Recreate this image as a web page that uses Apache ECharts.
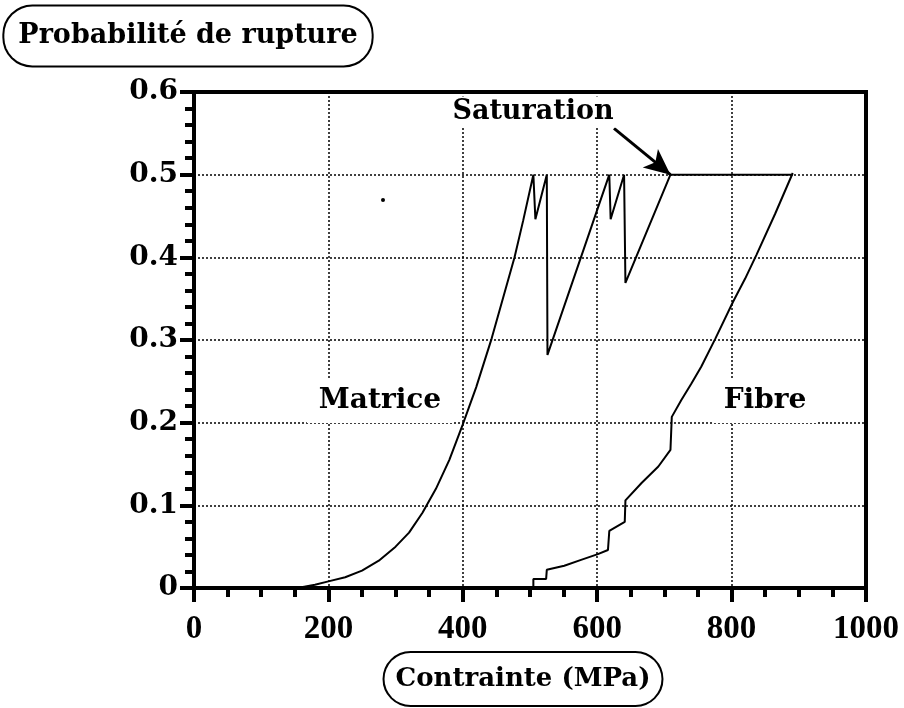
<!DOCTYPE html>
<html>
<head>
<meta charset="utf-8">
<script src="https://cdn.jsdelivr.net/npm/echarts@6/dist/echarts.min.js"></script>
<style>
html,body{margin:0;padding:0;background:#fff;}
#c{width:904px;height:708px;}
</style>
</head>
<body>
<div id="c"></div>
<script>
// ---- data ----
var xTicks = [0, 200, 400, 600, 800, 1000];
var yTicks = [0, 0.1, 0.2, 0.3, 0.4, 0.5, 0.6];

var matriceX = [130, 160, 180, 200, 225, 250, 275, 300, 320, 340, 360, 380, 400, 420, 443, 460, 477, 490, 505, 508, 525, 526, 618, 620, 640, 642, 709, 891];
var matriceY = [0, 0.001, 0.004, 0.008, 0.013, 0.021, 0.033, 0.050, 0.067, 0.091, 0.120, 0.155, 0.198, 0.243, 0.302, 0.351, 0.40, 0.445, 0.50, 0.446, 0.50, 0.282, 0.50, 0.446, 0.50, 0.369, 0.50, 0.50];

var fibreX = [505, 505, 524, 525, 551, 576, 601, 616, 618, 641, 642, 666, 691, 709, 711, 725, 740, 755, 776, 802, 820, 837, 865, 891];
var fibreY = [0, 0.011, 0.011, 0.022, 0.027, 0.034, 0.041, 0.046, 0.069, 0.080, 0.106, 0.127, 0.147, 0.167, 0.207, 0.227, 0.247, 0.268, 0.302, 0.346, 0.374, 0.403, 0.453, 0.502];

var arrowFrom = [625, 0.556];
var arrowTo = [709, 0.5];

function pairs(xs, ys) { return xs.map(function (x, i) { return [x, ys[i]]; }); }

var FONT = '"DejaVu Serif", serif';
var chart = echarts.init(document.getElementById('c'), null, {renderer: 'canvas'});
chart.setOption({
  animation: false,
  backgroundColor: '#fff',
  grid: {left: 194, right: 38, top: 92, bottom: 120, show: true, borderColor: '#000', borderWidth: 4, backgroundColor: 'transparent'},
  xAxis: {
    type: 'value', min: xTicks[0], max: xTicks[xTicks.length - 1], interval: 200,
    axisLine: {show: true, onZero: false, lineStyle: {color: '#000', width: 4}},
    axisTick: {show: true, length: 14, lineStyle: {color: '#000', width: 4}},
    minorTick: {show: true, splitNumber: 4, length: 9, lineStyle: {color: '#000', width: 4}},
    splitLine: {show: true, lineStyle: {color: '#000', width: 1.5, type: [2, 2]}},
    axisLabel: {margin: 25, color: '#000', fontFamily: '"Liberation Serif", serif', fontWeight: 'bold', fontSize: 33,
      formatter: function (v) { return String(v); }}
  },
  yAxis: {
    type: 'value', min: yTicks[0], max: yTicks[yTicks.length - 1], interval: 0.1,
    axisLine: {show: true, onZero: false, lineStyle: {color: '#000', width: 4}},
    axisTick: {show: true, length: 14, lineStyle: {color: '#000', width: 4}},
    minorTick: {show: true, splitNumber: 5, length: 9, lineStyle: {color: '#000', width: 4}},
    splitLine: {show: true, lineStyle: {color: '#000', width: 1.5, type: [2, 2]}},
    axisLabel: {margin: 16, color: '#000', fontFamily: FONT, fontWeight: 'bold', fontSize: 28,
      formatter: function (v) { return v === 0 ? '0' : v.toFixed(1); }}
  },
  series: [
    {
      name: 'Matrice', type: 'line', data: pairs(matriceX, matriceY), showSymbol: false, symbol: 'none',
      lineStyle: {color: '#000', width: 2}, z: 5,
      markLine: {
        silent: true, symbol: ['none', 'arrow'], symbolSize: [18, 26],
        label: {show: false},
        lineStyle: {color: '#000', width: 3, type: 'solid'},
        data: [[{coord: arrowFrom}, {coord: arrowTo}]]
      }
    },
    {
      name: 'Fibre', type: 'line', data: pairs(fibreX, fibreY), showSymbol: false, symbol: 'none',
      lineStyle: {color: '#000', width: 2}, z: 5
    }
  ],
  graphic: [
    {type: 'text', x: 380, y: 401, z: 100, style: {text: 'Matrice', font: 'bold 28px ' + FONT, fill: '#000', align: 'center', verticalAlign: 'middle', backgroundColor: '#fff', padding: [8, 12]}},
    {type: 'text', x: 765, y: 401, z: 100, style: {text: 'Fibre', font: 'bold 28px ' + FONT, fill: '#000', align: 'center', verticalAlign: 'middle', backgroundColor: '#fff', padding: [8, 10]}},
    {type: 'text', x: 533, y: 112, z: 100, style: {text: 'Saturation', font: 'bold 27px ' + FONT, fill: '#000', align: 'center', verticalAlign: 'middle', backgroundColor: '#fff', padding: [2, 4]}},
    {type: 'text', x: 188, y: 36, z: 100, style: {text: 'Probabilité de rupture', font: 'bold 27px ' + FONT, fill: '#000', align: 'center', verticalAlign: 'middle', backgroundColor: '#fff', borderColor: '#000', borderWidth: 2, borderRadius: 28, padding: [16, 14]}},
    {type: 'text', x: 523, y: 679, z: 100, style: {text: 'Contrainte (MPa)', font: 'bold 26px ' + FONT, fill: '#000', align: 'center', verticalAlign: 'middle', backgroundColor: '#fff', borderColor: '#000', borderWidth: 2, borderRadius: 26, padding: [13, 11]}},
    {type: 'circle', shape: {cx: 383, cy: 200, r: 2}, style: {fill: '#000'}, z: 100}
  ]
});
</script>
</body>
</html>
